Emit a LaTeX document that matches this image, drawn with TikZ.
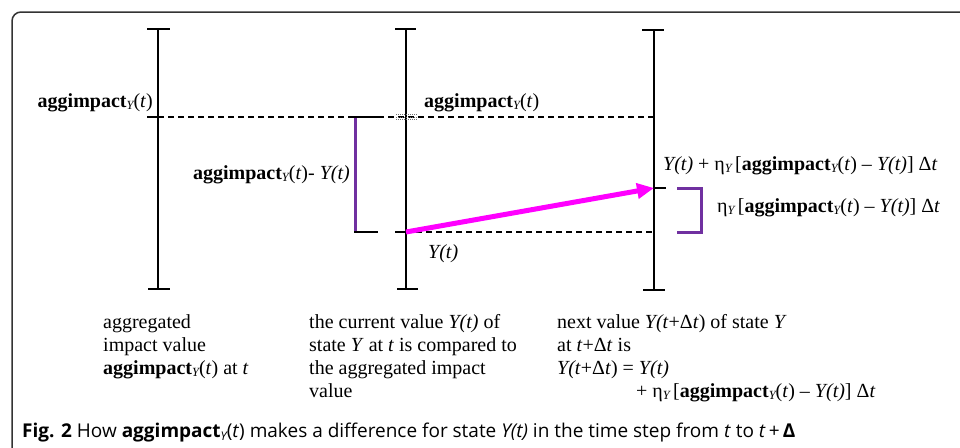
\documentclass[tikz,border=0pt]{standalone}
\usepackage{fontspec}
\setmainfont{Liberation Serif}
\newfontfamily\capfont{Open Sans}
\usepackage{xcolor}
\usetikzlibrary{arrows.meta,positioning}
\definecolor{bracketpurple}{HTML}{7030A0}
\definecolor{movemagenta}{HTML}{FF00FF}
\definecolor{framegray}{HTML}{333333}

\newcommand{\subY}{\raisebox{-0.25ex}{\fontsize{12.5}{12.5}\selectfont\itshape Y}}
\newcommand{\aggimp}{\textbf{aggimpact}\subY(\textit{t})}

\begin{document}
\begin{tikzpicture}[
  x=1pt, y=-1pt,
  bar/.style={line width=2pt},
  capline/.style={line width=2.6pt},
  level/.style={dashed, dash pattern=on 6pt off 4pt, line width=1.2pt},
  brace/.style={bracketpurple, line width=3pt},
  move/.style={movemagenta, line width=5pt, -{Triangle[length=17pt,width=15pt]}},
  lbl/.style={inner sep=0pt, font=\fontsize{20}{23}\selectfont},
  txt/.style={inner sep=0pt, align=left, font=\fontsize{20}{23}\selectfont}
]
  \useasboundingbox (0,0) rectangle (960,447);
  % frame
  \draw[framegray, line width=1.5pt, rounded corners=9pt] (12,450) -- (12,12) -- (965,12);

  % time axes
  \coordinate (atop) at (158,29);  \coordinate (abot) at (158,289);
  \coordinate (btop) at (406,29);  \coordinate (bbot) at (406,289);
  \coordinate (ctop) at (654,30);  \coordinate (cbot) at (654,290);
  \draw[bar] (atop) -- (abot);
  \draw[bar] (btop) -- (bbot);
  \draw[bar] (ctop) -- (cbot);
  \draw[capline] (147,29) -- (170,29);
  \draw[capline] (148,289) -- (170,289);
  \draw[capline] (395,29) -- (416,29);
  \draw[capline] (397,289) -- (418,289);
  \draw[capline] (642,30) -- (664,30);
  \draw[capline] (643,290) -- (665,290);

  % levels
  \coordinate (aggA) at (158,117);
  \coordinate (aggC) at (656,117);
  \coordinate (curB) at (406,232);
  \coordinate (curC) at (654,232);
  \coordinate (nextC) at (654,188);
  \draw[capline] (147,117) -- (aggA);
  \draw[level] (aggA) -- (aggC);
  \draw[black!55, densely dotted, line width=1pt] (396,114.5) -- (417,114.5) (396,119.5) -- (417,119.5);
  \draw[black!55, densely dotted, line width=1pt] (396,117) -- (417,117);
  \draw[capline] (395,232) -- (curB);
  \draw[level] (curB) -- (curC);
  \draw[capline] (nextC) -- (666,188);

  % difference bracket
  \draw[brace] (355,117) -- (355,232);
  \draw[capline] (354,117) -- (378,117);
  \draw[capline] (354,232) -- (378,232);

  % step bracket
  \draw[brace] (677,188) -- (701,188) -- (701,232) -- (677,232);

  % move to next value
  \draw[move] (curB) -- (nextC);

  % labels
  \node[lbl, anchor=base east] (aggleft) at (153,107) {\aggimp};
  \node[lbl, anchor=base west] (aggmid) at (424,107) {\aggimp};
  \node[lbl, anchor=base east] (diff) at (350,179) {\aggimp- \textit{Y(t)}};
  \node[lbl, anchor=base west] (cur) at (428,258) {\textit{Y(t)}};
  \node[lbl, anchor=base west] (next) at (663,170)
    {\textit{Y(t)} + η\subY\,[\aggimp\ -- \textit{Y(t)}]~Δ\textit{t}};
  \node[lbl, anchor=base west] (step) at (717,212)
    {η\subY\,[\aggimp\ -- \textit{Y(t)}]~Δ\textit{t}};

  % descriptions
  \node[txt, anchor=north west] (desca) at (103,314)
    {aggregated\\impact value\\\aggimp{} at \textit{t}};
  \node[txt, anchor=north west] (descb) at (309,314)
    {the current value \textit{Y(t)} of\\state \textit{Y} at \textit{t} is compared to\\the aggregated impact\\value};
  \node[txt, anchor=north west] (descc) at (557,314)
    {next value \textit{Y(t}+Δ\textit{t}) of state \textit{Y}\\at \textit{t}+Δ\textit{t} is\\\textit{Y(t}+Δ\textit{t}) = \textit{Y(t)}\\\hspace*{79pt}+ η\subY\,[\aggimp\ -- \textit{Y(t)}]~Δ\textit{t}};

  % caption
  \node[inner sep=0pt, anchor=base west, font=\capfont\fontsize{19}{23}\selectfont] (cap) at (22,437)
    {\textbf{Fig. 2} How \textbf{aggimpact}\raisebox{-0.3ex}{\fontsize{12}{12}\selectfont\itshape Y}(\textit{t}) makes a difference for state \textit{Y(t)} in the time step from \textit{t} to \textit{t}\,+\,\textbf{Δ}};
\end{tikzpicture}
\end{document}
